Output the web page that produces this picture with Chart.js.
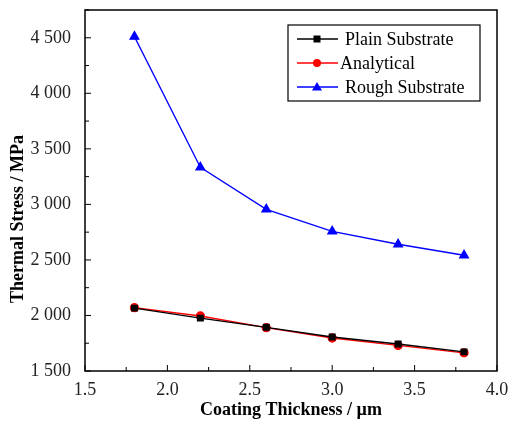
<!DOCTYPE html>
<html>
<head>
<meta charset="utf-8">
<script src="https://cdn.jsdelivr.net/npm/chart.js@4.4.1/dist/chart.umd.min.js"></script>
<style>
  html, body { margin: 0; padding: 0; background: #fff; }
  #wrap { width: 512px; height: 421px; }
</style>
</head>
<body>
<div id="wrap"><canvas id="grafico" width="512" height="421"></canvas></div>
<script>
// dados
const espessura = [1.8, 2.2, 2.6, 3.0, 3.4, 3.8];
const plainSubstrate = [2066, 1976, 1893, 1806, 1743, 1672];
const analytical = [2070, 1995, 1890, 1797, 1730, 1664];
const roughSubstrate = [4510, 3333, 2955, 2758, 2641, 2542];
const nomesSeries = ['Plain Substrate', 'Analytical', 'Rough Substrate'];
const coresSeries = ['#000000', '#ff0000', '#0000ff'];
const estilosPonto = ['rect', 'circle', 'triangle'];

const fonte = '"Liberation Serif", "Times New Roman", serif';

function pontos(valores) {
  return espessura.map((x, i) => ({ x: x, y: valores[i] }));
}

function formatarMilhar(v) {
  const s = String(Math.round(v));
  return s.length > 3 ? s.slice(0, -3) + ' ' + s.slice(-3) : s;
}

// moldura, ticks internos, título do eixo y e legenda
const pluginMoldura = {
  id: 'moldura',
  afterDraw(chart) {
    const ctx = chart.ctx;
    const a = chart.chartArea;
    const sx = chart.scales.x;
    const sy = chart.scales.y;
    ctx.save();
    ctx.strokeStyle = '#000';
    ctx.lineWidth = 1.5;
    ctx.strokeRect(a.left, a.top, a.right - a.left, a.bottom - a.top);

    ctx.lineWidth = 1;
    sy.ticks.forEach(t => {
      const y = sy.getPixelForValue(t.value);
      const major = Math.abs(t.value % 500) < 1e-6;
      ctx.beginPath();
      ctx.moveTo(a.left, y);
      ctx.lineTo(a.left + (major ? 6 : 4), y);
      ctx.stroke();
    });
    sx.ticks.forEach(t => {
      const x = sx.getPixelForValue(t.value);
      const major = Math.abs((t.value * 2) - Math.round(t.value * 2)) < 1e-6;
      ctx.beginPath();
      ctx.moveTo(x, a.bottom);
      ctx.lineTo(x, a.bottom - (major ? 6 : 4));
      ctx.stroke();
    });

    // título do eixo y (um pouco abaixo do centro, como no original)
    ctx.save();
    ctx.translate(18, 219);
    ctx.rotate(-Math.PI / 2);
    ctx.font = 'bold 18px ' + fonte;
    ctx.fillStyle = '#000';
    ctx.textAlign = 'center';
    ctx.textBaseline = 'middle';
    ctx.fillText('Thermal Stress / MPa', 0, 0);
    ctx.restore();

    // legenda
    const lx = a.right - 209, ly = a.top + 15, lw = 192, lh = 76;
    ctx.fillStyle = '#fff';
    ctx.fillRect(lx, ly, lw, lh);
    ctx.strokeStyle = '#000';
    ctx.lineWidth = 1.2;
    ctx.strokeRect(lx, ly, lw, lh);
    ctx.font = '18px ' + fonte;
    ctx.textBaseline = 'middle';
    chart.data.datasets.forEach((ds, i) => {
      const y = ly + 14 + i * 24;
      ctx.strokeStyle = ds.borderColor;
      ctx.lineWidth = 1.3;
      ctx.beginPath();
      ctx.moveTo(lx + 9, y);
      ctx.lineTo(lx + 50, y);
      ctx.stroke();
      ctx.fillStyle = ds.borderColor;
      const cx = lx + 29;
      if (ds.pointStyle === 'rect') {
        ctx.fillRect(cx - 3.5, y - 3.5, 7, 7);
      } else if (ds.pointStyle === 'circle') {
        ctx.beginPath(); ctx.arc(cx, y, 4, 0, Math.PI * 2); ctx.fill();
      } else {
        ctx.beginPath();
        ctx.moveTo(cx, y - 5); ctx.lineTo(cx + 5, y + 3.5); ctx.lineTo(cx - 5, y + 3.5);
        ctx.closePath(); ctx.fill();
      }
      ctx.fillStyle = '#000';
      ctx.fillText(ds.label, lx + (i === 1 ? 52 : 57), y + 1);
    });
    ctx.restore();
  }
};

const ctxGrafico = document.getElementById('grafico').getContext('2d');

const grafico = new Chart(ctxGrafico, {
  type: 'line',
  data: {
    datasets: [plainSubstrate, analytical, roughSubstrate].map((valores, i) => ({
      label: nomesSeries[i],
      data: pontos(valores),
      borderColor: coresSeries[i],
      backgroundColor: coresSeries[i],
      borderWidth: 1.3,
      pointStyle: estilosPonto[i],
      pointRadius: i === 2 ? 5 : 4,
      pointHoverRadius: i === 2 ? 5 : 4,
      tension: 0
    }))
  },
  options: {
    responsive: false,
    animation: false,
    devicePixelRatio: 1,
    layout: { padding: { top: 10, right: 15, left: 0, bottom: 0 } },
    plugins: {
      legend: { display: false },
      tooltip: { enabled: false }
    },
    scales: {
      x: {
        type: 'linear',
        min: 1.5,
        max: 4.0,
        border: { display: false },
        grid: { display: false },
        ticks: {
          stepSize: 0.25,
          autoSkip: false,
          maxRotation: 0,
          color: '#222',
          padding: 0,
          font: { family: fonte, size: 18 },
          callback: v => (Math.abs(v * 2 - Math.round(v * 2)) < 1e-6 ? v.toFixed(1) : '')
        },
        title: {
          display: true,
          text: 'Coating Thickness / µm',
          color: '#000',
          padding: { top: 8, bottom: 0 },
          font: { family: fonte, size: 18, weight: 'bold' }
        },
        afterFit: s => { s.height = 50; s.paddingLeft = 0; s.paddingRight = 0; }
      },
      y: {
        min: 1500,
        max: 4750,
        border: { display: false },
        grid: { display: false },
        ticks: {
          stepSize: 250,
          autoSkip: false,
          color: '#222',
          padding: 6,
          font: { family: fonte, size: 18 },
          callback: v => (Math.abs(v % 500) < 1e-6 ? formatarMilhar(v) : '')
        },
        title: { display: false },
        afterFit: s => { s.width = 85; s.paddingTop = 0; s.paddingBottom = 0; }
      }
    }
  },
  plugins: [pluginMoldura]
});
</script>
</body>
</html>
